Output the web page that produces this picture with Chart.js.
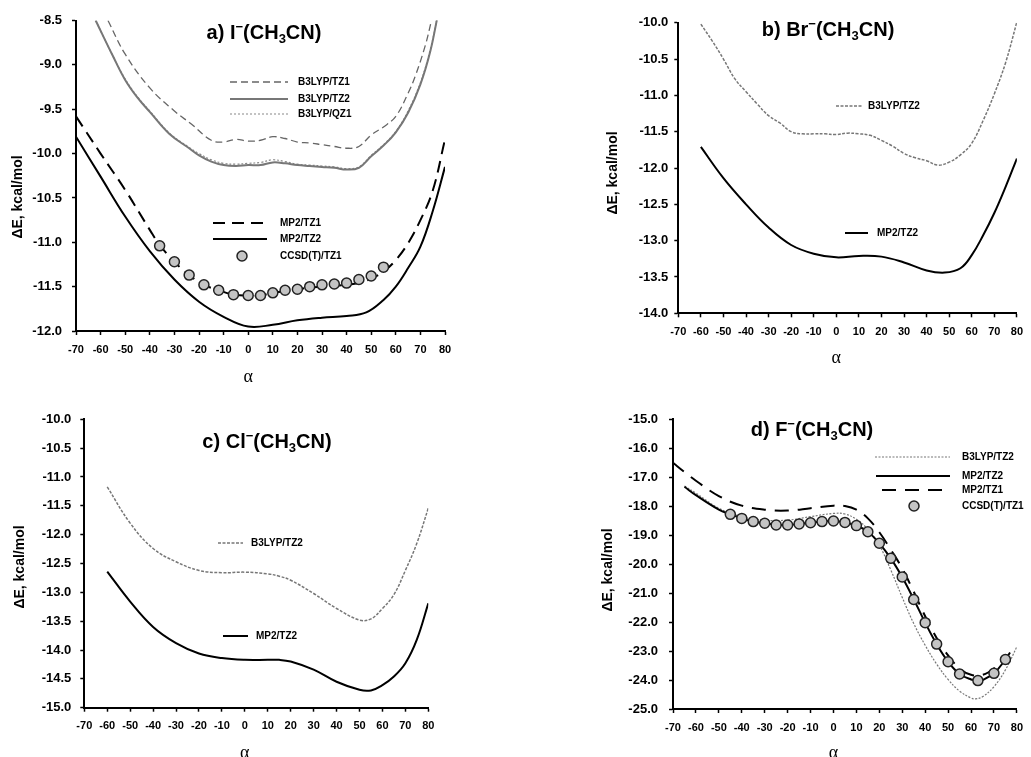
<!DOCTYPE html>
<html><head><meta charset="utf-8">
<script src="https://cdn.jsdelivr.net/npm/chart.js@4"></script>
<style>
html,body{margin:0;padding:0;background:#fff;}
body{width:1031px;height:757px;position:relative;overflow:hidden;}
canvas{position:absolute;}
</style>
</head><body>
<canvas id="ca"></canvas><canvas id="cb"></canvas><canvas id="cc"></canvas><canvas id="cd"></canvas>
<script>
// ---------- tick labels ----------
const xTicks  = [-70,-60,-50,-40,-30,-20,-10,0,10,20,30,40,50,60,70,80];
const yTicksA = [-12.0,-11.5,-11.0,-10.5,-10.0,-9.5,-9.0,-8.5];
const yTicksB = [-14.0,-13.5,-13.0,-12.5,-12.0,-11.5,-11.0,-10.5,-10.0];
const yTicksC = [-15.0,-14.5,-14.0,-13.5,-13.0,-12.5,-12.0,-11.5,-11.0,-10.5,-10.0];
const yTicksD = [-25.0,-24.0,-23.0,-22.0,-21.0,-20.0,-19.0,-18.0,-17.0,-16.0,-15.0];

// ---------- panel a: I-(CH3CN) ----------
const aAlphaB3TZ1 = [-57,-50,-40,-30,-23,-15,-10,-5,0,5,10,15,20,25,30,35,40,45,50,55,60,65,68,72,74.5];
const aB3LYP_TZ1  = [-8.5,-8.88,-9.26,-9.52,-9.67,-9.85,-9.87,-9.84,-9.86,-9.85,-9.81,-9.83,-9.87,-9.88,-9.9,-9.92,-9.94,-9.92,-9.79,-9.7,-9.58,-9.32,-9.12,-8.78,-8.5];
const aAlphaB3TZ2 = [-62,-55,-50,-45,-40,-32,-24,-20,-15,-10,-5,0,5,10,15,20,25,30,35,40,45,50,55,60,65,70,74,77];
const aB3LYP_TZ2  = [-8.5,-8.9,-9.17,-9.37,-9.53,-9.78,-9.94,-10.02,-10.09,-10.13,-10.14,-10.13,-10.13,-10.1,-10.11,-10.13,-10.14,-10.15,-10.16,-10.18,-10.16,-10.03,-9.91,-9.76,-9.54,-9.22,-8.85,-8.45];
const aB3LYP_QZ1  = [-8.5,-8.9,-9.16,-9.36,-9.52,-9.77,-9.93,-10.0,-10.07,-10.11,-10.12,-10.11,-10.1,-10.07,-10.09,-10.12,-10.13,-10.14,-10.15,-10.17,-10.15,-10.02,-9.9,-9.75,-9.52,-9.2,-8.83,-8.45];
const aAlphaMP2TZ2 = [-70,-60,-50,-40,-30,-20,-10,0,10,20,30,40,48,55,60,65,70,75,80];
const aMP2_TZ2     = [-9.81,-10.26,-10.71,-11.1,-11.42,-11.67,-11.84,-11.95,-11.93,-11.88,-11.85,-11.83,-11.79,-11.65,-11.5,-11.29,-11.05,-10.65,-10.15];
const aAlphaMP2TZ1 = [-70,-60,-50,-40,-36,-30,-24,-18,-12,-6,0,5,10,15,20,25,30,35,40,45,50,55,60,65,70,75,80];
const aMP2_TZ1     = [-9.58,-10.0,-10.41,-10.86,-11.03,-11.22,-11.37,-11.48,-11.54,-11.59,-11.6,-11.6,-11.57,-11.55,-11.53,-11.51,-11.5,-11.49,-11.48,-11.46,-11.41,-11.33,-11.2,-11.01,-10.75,-10.42,-9.84];
const aAlphaCCSD = [-36,-30,-24,-18,-12,-6,0,5,10,15,20,25,30,35,40,45,50,55];
const aCCSD_TZ1  = [-11.04,-11.22,-11.37,-11.48,-11.54,-11.59,-11.6,-11.6,-11.57,-11.54,-11.53,-11.5,-11.48,-11.47,-11.46,-11.42,-11.38,-11.28];

// ---------- panel b: Br-(CH3CN) ----------
const bAlphaB3 = [-60,-55,-50,-45,-40,-35,-30,-25,-20,-15,-10,-5,0,5,10,15,20,25,30,35,40,45,50,55,60,65,70,75,80];
const bB3LYP_TZ2 = [-10.02,-10.25,-10.5,-10.77,-10.95,-11.12,-11.28,-11.38,-11.5,-11.53,-11.53,-11.53,-11.54,-11.52,-11.53,-11.55,-11.62,-11.7,-11.8,-11.86,-11.9,-11.96,-11.92,-11.82,-11.66,-11.35,-10.98,-10.55,-9.99];
const bAlphaMP2 = [-60,-50,-40,-30,-20,-10,0,10,20,30,40,48,55,60,65,70,75,80];
const bMP2_TZ2  = [-11.71,-12.14,-12.5,-12.82,-13.06,-13.18,-13.23,-13.21,-13.22,-13.3,-13.41,-13.44,-13.38,-13.2,-12.93,-12.62,-12.26,-11.87];

// ---------- panel c: Cl-(CH3CN) ----------
const cAlphaB3 = [-60,-50,-40,-30,-20,-10,0,10,15,20,30,40,50,55,60,65,70,75,80];
const cB3LYP_TZ2 = [-11.17,-11.8,-12.24,-12.47,-12.62,-12.66,-12.65,-12.68,-12.72,-12.79,-13.02,-13.28,-13.48,-13.46,-13.28,-13.04,-12.62,-12.15,-11.54];
const cAlphaMP2 = [-60,-50,-40,-30,-20,-10,0,10,15,20,30,40,50,55,60,65,70,75,80];
const cMP2_TZ2  = [-12.64,-13.16,-13.6,-13.88,-14.06,-14.14,-14.17,-14.17,-14.17,-14.2,-14.34,-14.55,-14.69,-14.7,-14.61,-14.46,-14.23,-13.82,-13.19];

// ---------- panel d: F-(CH3CN) ----------
const dAlphaB3 = [-65,-60,-50,-40,-30,-20,-10,0,5,10,15,20,25,30,35,40,45,50,55,60,62,65,70,75,80];
const dB3LYP_TZ2 = [-17.3,-17.55,-18.07,-18.36,-18.48,-18.48,-18.36,-18.25,-18.27,-18.45,-18.8,-19.35,-20.2,-21.15,-22.05,-22.8,-23.45,-23.98,-24.38,-24.62,-24.65,-24.58,-24.23,-23.65,-22.85];
const dAlphaMP2TZ2 = [-65,-60,-50,-45,-40,-35,-30,-25,-20,-15,-10,-5,0,5,10,15,20,25,30,35,40,45,50,55,60,63,65,70,75,77];
const dMP2_TZ2 = [-17.33,-17.62,-18.12,-18.28,-18.42,-18.53,-18.59,-18.64,-18.65,-18.61,-18.57,-18.53,-18.51,-18.56,-18.67,-18.88,-19.28,-19.8,-20.45,-21.21,-22.02,-22.76,-23.37,-23.79,-23.98,-24.02,-24.0,-23.77,-23.29,-23.05];
const dAlphaMP2TZ1 = [-70,-65,-60,-50,-40,-30,-20,-10,0,5,10,15,20,25,30,35,40,45,50,55,60,65,70,75];
const dMP2_TZ1 = [-16.5,-16.82,-17.12,-17.65,-17.98,-18.12,-18.15,-18.07,-17.98,-17.99,-18.12,-18.42,-18.9,-19.5,-20.15,-20.95,-21.8,-22.55,-23.15,-23.6,-23.82,-23.82,-23.6,-23.2];
const dAlphaCCSD = [-45,-40,-35,-30,-25,-20,-15,-10,-5,0,5,10,15,20,25,30,35,40,45,50,55,63,70,75];
const dCCSD_TZ1 = [-18.28,-18.42,-18.53,-18.59,-18.65,-18.65,-18.61,-18.57,-18.53,-18.51,-18.56,-18.67,-18.88,-19.28,-19.8,-20.44,-21.22,-22.02,-22.76,-23.37,-23.79,-24.02,-23.77,-23.29];

// ---------- helpers ----------
const FONT = "'Liberation Sans', Arial, Helvetica, sans-serif";
const SERIF = "'Liberation Serif', 'DejaVu Serif', serif";
function pts(xs, ys){ return xs.map((x,i)=>({x:x, y:ys[i]})); }

function lineDs(label, xs, ys, color, width, dash, order){
  return {label:label, data:pts(xs,ys), borderColor:color, borderWidth:width, borderDash:dash||[],
          pointRadius:0, fill:false, tension:0.4, order:order||1};
}
function dotDs(label, xs, ys){
  return {label:label, data:pts(xs,ys), showLine:false, pointRadius:5, pointHoverRadius:5,
          pointBackgroundColor:'#c4c4c4', pointBorderColor:'#222', pointBorderWidth:1.5, borderColor:'#222', order:0};
}

function decoPlugin(box, spec){
  return {
    id:'deco',
    afterDraw(chart){
      const ctx = chart.ctx;
      const ox = box.x, oy = box.y;
      ctx.save();
      ctx.fillStyle = '#000';
      // panel title with super/subscripts
      const T = spec.title;
      const big = "bold 20px " + FONT, small = "bold 13px " + FONT;
      let total = 0;
      T.segs.forEach(s=>{ ctx.font = s.sup||s.sub ? small : big; total += ctx.measureText(s.t).width; });
      let x = T.x - ox - total/2; const y = T.y - oy;
      ctx.textBaseline = 'middle'; ctx.textAlign = 'left';
      T.segs.forEach(s=>{
        ctx.font = s.sup||s.sub ? small : big;
        const dy = s.sup ? -6 : (s.sub ? 6 : 0);
        ctx.fillText(s.t, x, y + dy);
        x += ctx.measureText(s.t).width;
      });
      // y axis title
      ctx.save();
      ctx.translate(spec.yTitle.x - ox, spec.yTitle.y - oy);
      ctx.rotate(-Math.PI/2);
      ctx.font = "bold 14px " + FONT; ctx.textAlign='center'; ctx.textBaseline='middle';
      ctx.fillText('\u0394E, kcal/mol', 0, 0);
      ctx.restore();
      // x axis title (centered under alpha = 0)
      ctx.font = "18px " + SERIF; ctx.textAlign='center'; ctx.textBaseline='middle';
      ctx.fillText('\u03b1', chart.scales.x.getPixelForValue(0), spec.xTitleY - oy);
      // legend
      ctx.font = "bold 10px " + FONT; ctx.textAlign='left'; ctx.textBaseline='middle';
      spec.legend.forEach(it=>{
        const ds = chart.data.datasets.find(d=>d.label===it.label);
        const ly = it.y - oy;
        if (ds.showLine === false){
          ctx.beginPath(); ctx.arc(it.cx - ox, ly, 5, 0, Math.PI*2);
          ctx.fillStyle = ds.pointBackgroundColor; ctx.fill();
          ctx.lineWidth = ds.pointBorderWidth; ctx.strokeStyle = ds.pointBorderColor; ctx.setLineDash([]); ctx.stroke();
        } else {
          ctx.beginPath(); ctx.moveTo(it.x1 - ox, ly); ctx.lineTo(it.x2 - ox, ly);
          ctx.strokeStyle = ds.borderColor; ctx.lineWidth = ds.borderWidth; ctx.setLineDash(ds.borderDash||[]); ctx.stroke();
          ctx.setLineDash([]);
        }
        ctx.fillStyle = '#000';
        ctx.fillText(it.label, it.tx - ox, ly);
      });
      ctx.restore();
    }
  };
}

function makePanel(id, box, area, o){
  const cv = document.getElementById(id);
  cv.width = box.w; cv.height = box.h;
  cv.style.left = box.x + 'px'; cv.style.top = box.y + 'px';
  const Wy = area.l - box.x;
  const Hx = 30;
  const pad = {left:0, top: area.t - box.y, right: (box.x + box.w) - area.r, bottom: (box.y + box.h) - area.b - Hx};
  const gridCfg = {drawOnChartArea:false, drawTicks:true, tickLength:4, color:'#000', tickColor:'#000', tickWidth:1.5};
  new Chart(cv, {
    type:'line',
    data:{datasets:o.datasets},
    options:{
      responsive:false, animation:false, devicePixelRatio:1,
      layout:{padding:pad},
      plugins:{legend:{display:false}, tooltip:{enabled:false}, title:{display:false}},
      scales:{
        x:{type:'linear', min:-70, max:80,
           afterFit:s=>{ s.height = Hx; },
           afterBuildTicks:s=>{ s.ticks = xTicks.map(v=>({value:v})); },
           ticks:{font:{family:FONT, size:11, weight:'bold'}, color:'#000', padding:8, maxRotation:0, autoSkip:false, callback:v=>String(v)},
           grid:gridCfg, border:{display:true, color:'#000', width:2}},
        y:{type:'linear', min:o.ymin, max:o.ymax,
           afterFit:s=>{ s.width = Wy; },
           afterBuildTicks:s=>{ s.ticks = o.yTicks.map(v=>({value:v})); },
           ticks:{font:{family:FONT, size:13, weight:'bold'}, color:'#000', padding:o.yPad, autoSkip:false, callback:v=>Number(v).toFixed(1)},
           grid:gridCfg, border:{display:true, color:'#000', width:2}}
      }
    },
    plugins:[decoPlugin(box, o.deco)]
  });
}

// ---------- panel a ----------
makePanel('ca', {x:0,y:0,w:515,h:392}, {l:76,t:20.5,r:445,b:331}, {
  ymin:-12, ymax:-8.5, yTicks:yTicksA, yPad:10,
  datasets:[
    dotDs('CCSD(T)/TZ1', aAlphaCCSD, aCCSD_TZ1),
    lineDs('B3LYP/TZ1', aAlphaB3TZ1, aB3LYP_TZ1, '#666', 1.3, [7,4], 3),
    lineDs('B3LYP/TZ2', aAlphaB3TZ2, aB3LYP_TZ2, '#777', 2, [], 3),
    lineDs('B3LYP/QZ1', aAlphaB3TZ2, aB3LYP_QZ1, '#888', 1.2, [2,2], 3),
    lineDs('MP2/TZ1', aAlphaMP2TZ1, aMP2_TZ1, '#000', 2, [12,7], 2),
    lineDs('MP2/TZ2', aAlphaMP2TZ2, aMP2_TZ2, '#000', 2, [], 2)
  ],
  deco:{
    title:{x:264, y:33, segs:[{t:'a) I'},{t:'\u2212',sup:true},{t:'(CH'},{t:'3',sub:true},{t:'CN)'}]},
    yTitle:{x:18, y:197}, xTitleY:377,
    legend:[
      {label:'B3LYP/TZ1', x1:230, x2:288, y:82, tx:298},
      {label:'B3LYP/TZ2', x1:230, x2:288, y:99, tx:298},
      {label:'B3LYP/QZ1', x1:230, x2:288, y:114, tx:298},
      {label:'MP2/TZ1', x1:213, x2:267, y:223, tx:280},
      {label:'MP2/TZ2', x1:213, x2:267, y:239, tx:280},
      {label:'CCSD(T)/TZ1', cx:242, y:256, tx:280}
    ]
  }
});

// ---------- panel b ----------
makePanel('cb', {x:515,y:0,w:516,h:372}, {l:678.3,t:22.7,r:1023.3,b:313.3}, {
  ymin:-14, ymax:-10, yTicks:yTicksB, yPad:6,
  datasets:[
    lineDs('B3LYP/TZ2', bAlphaB3, bB3LYP_TZ2, '#777', 1.5, [3,1.5], 2),
    lineDs('MP2/TZ2', bAlphaMP2, bMP2_TZ2, '#000', 2, [], 1)
  ],
  deco:{
    title:{x:828, y:30, segs:[{t:'b) Br'},{t:'\u2212',sup:true},{t:'(CH'},{t:'3',sub:true},{t:'CN)'}]},
    yTitle:{x:613, y:173}, xTitleY:358,
    legend:[
      {label:'B3LYP/TZ2', x1:836, x2:863, y:106, tx:868},
      {label:'MP2/TZ2', x1:845, x2:868, y:233, tx:877}
    ]
  }
});

// ---------- panel c ----------
makePanel('cc', {x:0,y:395,w:515,h:380}, {l:84.3,t:419.3,r:428.3,b:707.7}, {
  ymin:-15, ymax:-10, yTicks:yTicksC, yPad:9,
  datasets:[
    lineDs('B3LYP/TZ2', cAlphaB3, cB3LYP_TZ2, '#777', 1.5, [3,1.5], 2),
    lineDs('MP2/TZ2', cAlphaMP2, cMP2_TZ2, '#000', 2, [], 1)
  ],
  deco:{
    title:{x:267, y:442, segs:[{t:'c) Cl'},{t:'\u2212',sup:true},{t:'(CH'},{t:'3',sub:true},{t:'CN)'}]},
    yTitle:{x:20, y:567}, xTitleY:753,
    legend:[
      {label:'B3LYP/TZ2', x1:218, x2:243, y:543, tx:251},
      {label:'MP2/TZ2', x1:223, x2:248, y:636, tx:256}
    ]
  }
});

// ---------- panel d ----------
makePanel('cd', {x:515,y:395,w:516,h:380}, {l:673,t:419.3,r:1017.3,b:709}, {
  ymin:-25, ymax:-15, yTicks:yTicksD, yPad:11,
  datasets:[
    dotDs('CCSD(T)/TZ1', dAlphaCCSD, dCCSD_TZ1),
    lineDs('B3LYP/TZ2', dAlphaB3, dB3LYP_TZ2, '#777', 1.2, [2,1.5], 3),
    lineDs('MP2/TZ2', dAlphaMP2TZ2, dMP2_TZ2, '#000', 2, [], 2),
    lineDs('MP2/TZ1', dAlphaMP2TZ1, dMP2_TZ1, '#000', 2, [14,9], 2)
  ],
  deco:{
    title:{x:812, y:430, segs:[{t:'d) F'},{t:'\u2212',sup:true},{t:'(CH'},{t:'3',sub:true},{t:'CN)'}]},
    yTitle:{x:608, y:570}, xTitleY:753,
    legend:[
      {label:'B3LYP/TZ2', x1:875, x2:950, y:457, tx:962},
      {label:'MP2/TZ2', x1:876, x2:950, y:476, tx:962},
      {label:'MP2/TZ1', x1:882, x2:950, y:490, tx:962},
      {label:'CCSD(T)/TZ1', cx:914, y:506, tx:962}
    ]
  }
});
</script>
</body></html>
